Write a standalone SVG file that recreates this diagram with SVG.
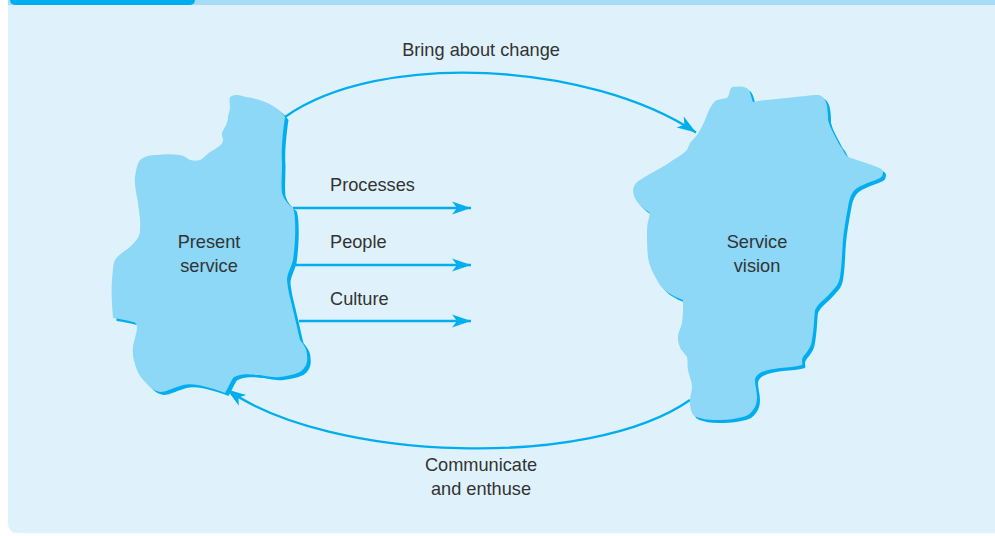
<svg xmlns="http://www.w3.org/2000/svg" width="995" height="536" viewBox="0 0 995 536">
  <defs>
    <style>
      .panel { fill: #dff2fb; }
      .strip { fill: #a6dcf8; }
      .tab { fill: #00aeef; }
      .blob { fill: #8dd7f7; }
      .blob-edge { fill: #00aeef; }
      .link { fill: none; stroke: #00aeef; stroke-width: 2.3; }
      .label { font-family: "Liberation Sans", Arial, sans-serif; font-size: 18.2px; fill: #333333; }
      .mid { text-anchor: middle; }
    </style>
    <marker id="head" viewBox="-20 -7 21 14" refX="0" refY="0" markerWidth="21" markerHeight="14" markerUnits="userSpaceOnUse" orient="auto">
      <path d="M0,0 L-19,-6.5 L-14,0 L-19,6.5 Z" fill="#00aeef"/>
    </marker>
    <path id="present-shape" d="M230,97 C236,93 242,96 246,97 C262,99 278,106 285,117 C283,130 281,150 282,163 C282,175 281,185 282,193 C284,200 289,205 293,208 C296,214 296,240 293,260 C291,268 287,274 287,280 C288,292 291,300 293,310 C296,322 298,332 300,340 C303,344 307,348 307,355 C308,362 306,368 300,372 C293,375 287,376 280,377 C270,378 264,375 257,375 C250,374 244,374 240,375 C236,376 234,377 233,378 C230,383 228,388 225,393 C220,391 215,389 210,388 C200,385 190,383 183,385 C175,387 167,392 160,392 C155,391 152,389 150,387 C144,381 139,376 137,370 C134,362 132,355 133,347 C134,340 137,333 137,327 C137,324 135,322 133,322 C127,320 120,319 113,318 C112,305 111,292 112,280 C113,270 113,264 115,260 C119,254 125,251 130,247 C136,241 140,237 140,230 C141,221 139,212 138,203 C137,195 134,186 135,177 C136,170 137,164 140,160 C145,156 150,155 157,155 C165,154 173,154 180,155 C185,156 188,159 190,160 C194,161 197,161 200,160 C204,158 207,154 210,152 C213,150 216,149 218,147 C221,145 223,143 223,140 C223,137 221,135 222,133 C223,130 224,129 225,127 C227,123 228,120 228,117 C229,112 230,110 230,107 C230,103 229,100 230,97 Z"/>
    <path id="vision-shape" d="M730,90 C731,87 733,86 736,87 C741,86 746,87 748,89 C751,93 751,97 753,102 C764,100 776,99 787,98 C798,97 810,95 818,95 C823,95 826,100 827,106 C828,112 828,116 828,120 C830,128 834,134 837,140 C839,144 840,146 842,148 C844,152 845,155 848,157 C853,159 858,160 863,162 C868,164 873,165 877,167 C881,168 883,170 883,172 C883,175 882,177 880,178 C874,181 869,182 863,185 C858,187 855,189 853,192 C850,196 849,201 848,207 C846,218 844,229 843,240 C842,252 842,265 840,277 C839,283 836,287 833,290 C829,295 824,299 820,303 C817,306 816,308 815,310 C814,318 814,326 813,333 C812,339 812,343 810,347 C808,351 805,354 803,357 C801,360 803,363 802,365 C795,367 788,367 780,368 C773,369 766,370 760,373 C757,375 755,377 755,380 C755,386 757,391 757,397 C757,402 756,406 753,410 C750,414 747,416 743,417 C735,419 728,420 720,420 C713,420 706,420 700,418 C696,417 693,416 692,413 C690,409 690,404 690,400 C690,396 692,391 692,387 C692,381 689,376 688,370 C687,365 688,361 687,357 C685,353 681,351 680,347 C678,343 678,340 678,337 C678,332 681,328 682,323 C683,316 683,309 683,303 C683,302 683,301 683,300 C677,298 672,295 667,292 C663,289 659,285 657,280 C653,273 649,265 648,257 C647,248 647,239 647,230 C647,224 649,218 650,213 C646,210 641,207 638,203 C635,199 633,195 633,190 C634,185 636,182 640,180 C645,177 651,173 657,170 C662,167 668,164 673,160 C678,157 683,154 687,150 C688,148 689,145 690,143 C692,140 695,138 697,135 C700,130 703,125 705,120 C707,115 709,109 712,105 C714,102 715,101 717,100 C720,99 724,99 727,98 C729,96 729,93 730,90 Z"/>
  </defs>

  <!-- page panel with header strip -->
  <rect width="995" height="536" fill="#ffffff"/>
  <path class="panel" d="M8,0 H995 V533 H18 Q8,533 8,523 Z"/>
  <path class="strip" d="M8,0 H995 V5 H8 Z"/>
  <path class="tab" d="M10,0 H195 V0 Q195,5 189,5 H16 Q10,5 10,0 Z"/>

  <!-- connectors -->
  <g id="connectors">
    <path class="link" d="M285,117 C380,50 590,62 696,132.5" marker-end="url(#head)"/>
    <path class="link" d="M690,400 C590,470 330,462 227,389.5" marker-end="url(#head)"/>
    <path class="link" d="M293,208 H471" marker-end="url(#head)"/>
    <path class="link" d="M295,265 H471" marker-end="url(#head)"/>
    <path class="link" d="M299,321 H471" marker-end="url(#head)"/>
  </g>

  <!-- Present service -->
  <g id="present-service">
    <use href="#present-shape" class="blob-edge" transform="translate(3.5,3)"/>
    <use href="#present-shape" class="blob"/>
    <text class="label mid" x="209" y="248">Present</text>
    <text class="label mid" x="209" y="272">service</text>
  </g>

  <!-- Service vision -->
  <g id="service-vision">
    <use href="#vision-shape" class="blob-edge" transform="translate(3,3)"/>
    <use href="#vision-shape" class="blob"/>
    <text class="label mid" x="757" y="248">Service</text>
    <text class="label mid" x="757" y="272">vision</text>
  </g>

  <!-- connector labels -->
  <g id="labels">
    <text class="label mid" x="481" y="56">Bring about change</text>
    <text class="label" x="330" y="191">Processes</text>
    <text class="label" x="330" y="248">People</text>
    <text class="label" x="330" y="305">Culture</text>
    <text class="label mid" x="481" y="471">Communicate</text>
    <text class="label mid" x="481" y="495">and enthuse</text>
  </g>
</svg>
